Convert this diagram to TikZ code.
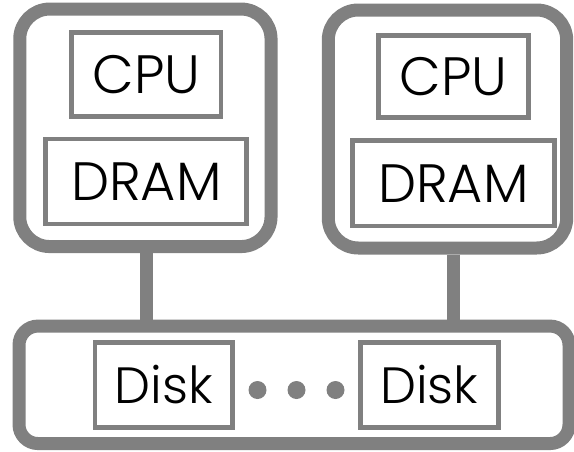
\documentclass[tikz,border=0pt]{standalone}
\usepackage{fontspec}
\setmainfont{Poppins}[UprightFont=* Light]
\definecolor{framegray}{RGB}{128,128,128}
\begin{document}
\begin{tikzpicture}[x=1pt,y=-1pt,
  outerbox/.style={draw=framegray, line width=13pt,
    rounded corners=30pt, rectangle, inner sep=0pt},
  busbox/.style={draw=framegray, line width=13pt,
    rounded corners=19pt, rectangle, inner sep=0pt},
  unitbox/.style={draw=framegray, line width=4.8pt,
    rectangle, inner sep=0pt, text=black, font=\fontsize{54}{54}\selectfont},
  diskbox/.style={unitbox, font=\fontsize{51}{51}\selectfont},
  link/.style={draw=framegray, line width=13pt},
  dot/.style={circle, fill=framegray, inner sep=0pt, minimum size=18pt}]
\useasboundingbox (0,0) rectangle (574,451);

% compute nodes
\node[outerbox, minimum width=251.3pt, minimum height=237.5pt] (nodeL) at (145.4,127.8) {};
\node[outerbox, minimum width=238.4pt, minimum height=238pt] (nodeR) at (447.5,129) {};
\node[unitbox, minimum width=149.5pt, minimum height=84pt] (cpuL) at (146.3,74.5) {CPU};
\node[unitbox, minimum width=201pt, minimum height=85pt] (dramL) at (146.3,181.5) {DRAM};
\node[unitbox, minimum width=149.8pt, minimum height=81.7pt] (cpuR) at (453.4,76.7) {CPU};
\node[unitbox, minimum width=201.8pt, minimum height=85.2pt] (dramR) at (453.4,183.4) {DRAM};

% shared storage
\node[busbox, minimum width=550pt, minimum height=117.5pt] (bus) at (294,384.8) {};
\node[diskbox, minimum width=137.7pt, minimum height=85.4pt] (diskA) at (163.9,385) {Disk};
\node[diskbox, minimum width=138pt, minimum height=85.4pt] (diskB) at (429.3,385) {Disk};
\node[dot] (d1) at (257.5,390) {};
\node[dot] (d2) at (296.5,390) {};
\node[dot] (d3) at (335.5,390) {};

% links to storage
\draw[link] (nodeL.south -| cpuL) -- (bus.north -| cpuL);
\draw[link] (nodeR.south -| cpuR) -- (bus.north -| cpuR);
\end{tikzpicture}
\end{document}
